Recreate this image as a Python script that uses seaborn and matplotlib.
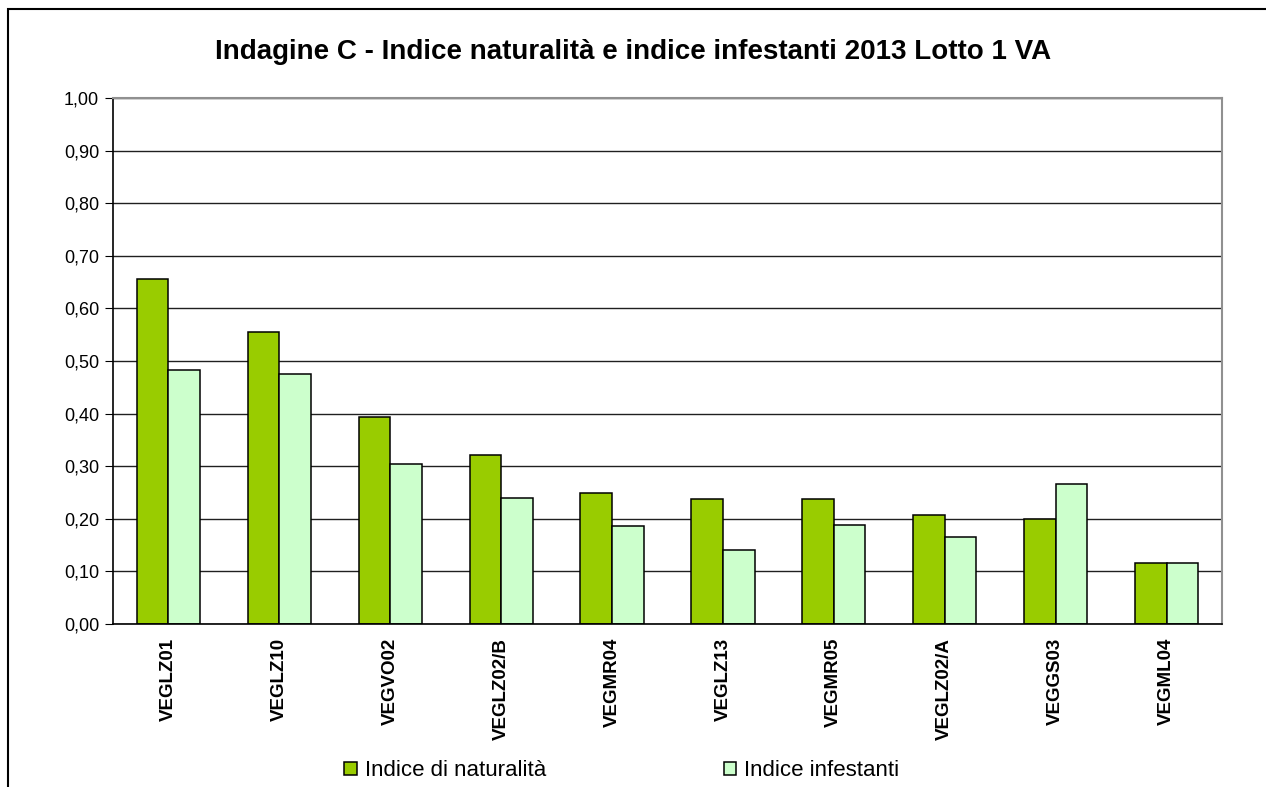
"""
Indagine C - indice naturalita e indice infestanti, bar chart.
"""

import matplotlib
matplotlib.use("Agg")
import matplotlib.pyplot as plt
import matplotlib.patches as mpatches
import numpy as np
import pandas as pd
import seaborn as sns

stations = ["VEGLZ01", "VEGLZ10", "VEGVO02", "VEGLZ02/B", "VEGMR04",
            "VEGLZ13", "VEGMR05", "VEGLZ02/A", "VEGGS03", "VEGML04"]
naturalita = [0.656, 0.556, 0.394, 0.321, 0.250, 0.237, 0.237, 0.208, 0.200, 0.116]
infestanti = [0.483, 0.475, 0.304, 0.239, 0.186, 0.141, 0.189, 0.166, 0.266, 0.116]
series_names = ["Indice di naturalità", "Indice infestanti"]
colors = ["#99CC00", "#CCFFCC"]
y_ticks = np.arange(0, 1.01, 0.1)

# long form table for seaborn
df = pd.DataFrame({
    "stazione": stations * 2,
    "valore": naturalita + infestanti,
    "serie": [series_names[0]] * len(stations) + [series_names[1]] * len(stations),
})

sns.set_style("white")
plt.rcParams["font.family"] = ["Liberation Sans", "DejaVu Sans"]
plt.rcParams["text.color"] = "black"
plt.rcParams["xtick.color"] = "black"
plt.rcParams["ytick.color"] = "black"

fig = plt.figure(figsize=(12.66, 7.87), dpi=100)
ax = fig.add_axes([113 / 1266, 1 - 624 / 787, (1222 - 113) / 1266, (624 - 98) / 787])

sns.barplot(data=df, x="stazione", y="valore", hue="serie", palette=colors,
            width=0.57, edgecolor="black", linewidth=1.1, saturation=1,
            ax=ax, legend=True)

ax.set_ylim(0, 1.0)
ax.set_xlim(-0.5, len(stations) - 0.5)
ax.set_yticks(y_ticks)
ax.set_yticklabels([f"{v:.2f}".replace(".", ",") for v in y_ticks], fontsize=13)
ax.set_xlabel("")
ax.set_ylabel("")
ax.set_xticks(range(len(stations)))
ax.set_xticklabels(stations, rotation=90, fontsize=13.5, fontweight="bold")
ax.set_xticks(np.arange(-0.5, len(stations), 1), minor=True)
ax.tick_params(axis="x", which="major", length=0, pad=10)
ax.tick_params(axis="x", which="minor", length=6, direction="out", color="black")
ax.tick_params(axis="y", length=6, direction="out", color="black", left=True, pad=4)

ax.yaxis.grid(True, color="#202020", linewidth=1.0)
ax.set_axisbelow(True)
for side in ["top", "right"]:
    ax.spines[side].set_color("#909090")
    ax.spines[side].set_linewidth(1.5)
for side in ["left", "bottom"]:
    ax.spines[side].set_color("black")
    ax.spines[side].set_linewidth(1.2)

handles, labels = ax.get_legend_handles_labels()
ax.get_legend().remove()
leg = fig.legend(handles, labels, loc="center", bbox_to_anchor=(0.491, 1 - 771 / 787),
                 ncol=2, frameon=False, fontsize=16, handlelength=0.55,
                 handleheight=0.55, handletextpad=0.36, columnspacing=8)

fig.suptitle("Indagine C - Indice naturalità e indice infestanti 2013 Lotto 1 VA",
             x=0.5, y=1 - 52 / 787, va="center", fontsize=20, fontweight="bold")

# outer chart border (left and top only are visible)
fig.patches.append(mpatches.Rectangle((8 / 1266, -0.1), 1.2, 1.1 - 9 / 787,
                                      transform=fig.transFigure, fill=False,
                                      edgecolor="black", linewidth=1.5))

fig.savefig("out.png", dpi=100)
